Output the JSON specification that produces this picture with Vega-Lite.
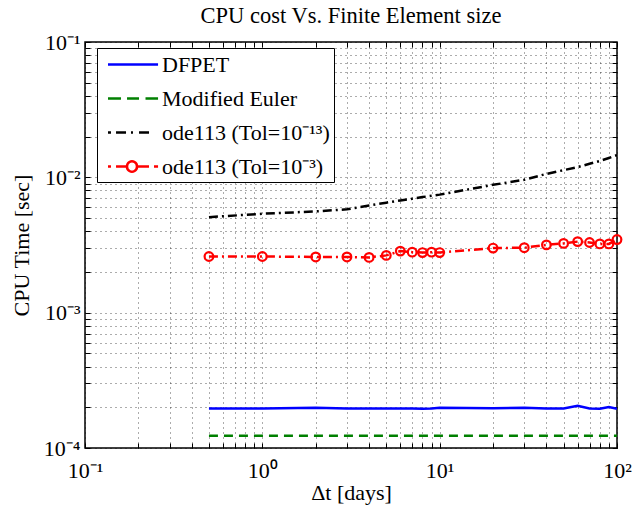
{
  "$schema": "https://vega.github.io/schema/vega-lite/v6.json",
  "width": 532,
  "height": 406,
  "autosize": {"type": "none"},
  "padding": {"left": 85, "top": 42, "right": 15, "bottom": 64},
  "background": "white",
  "config": {"font": "Liberation Serif", "view": {"stroke": "black", "strokeWidth": 1.5}},
  "title": {"text": "CPU cost Vs. Finite Element size", "fontSize": 22.5, "fontWeight": "normal", "font": "Liberation Serif", "offset": 4, "color": "black"},
  "datasets": {
    "d": [
      {"dt": 0.5, "t": 0.000196, "method": "DFPET"},
      {"dt": 1, "t": 0.000196, "method": "DFPET"},
      {"dt": 2, "t": 0.000198, "method": "DFPET"},
      {"dt": 3, "t": 0.000196, "method": "DFPET"},
      {"dt": 4, "t": 0.000196, "method": "DFPET"},
      {"dt": 5, "t": 0.000196, "method": "DFPET"},
      {"dt": 6, "t": 0.000196, "method": "DFPET"},
      {"dt": 7, "t": 0.000196, "method": "DFPET"},
      {"dt": 8, "t": 0.000195, "method": "DFPET"},
      {"dt": 9, "t": 0.000196, "method": "DFPET"},
      {"dt": 10, "t": 0.000198, "method": "DFPET"},
      {"dt": 20, "t": 0.000197, "method": "DFPET"},
      {"dt": 30, "t": 0.000198, "method": "DFPET"},
      {"dt": 40, "t": 0.000196, "method": "DFPET"},
      {"dt": 50, "t": 0.000196, "method": "DFPET"},
      {"dt": 60, "t": 0.000205, "method": "DFPET"},
      {"dt": 70, "t": 0.000196, "method": "DFPET"},
      {"dt": 80, "t": 0.000195, "method": "DFPET"},
      {"dt": 90, "t": 0.000201, "method": "DFPET"},
      {"dt": 100, "t": 0.000195, "method": "DFPET"},
      {"dt": 0.5, "t": 0.000123, "method": "Modified Euler"},
      {"dt": 1, "t": 0.000123, "method": "Modified Euler"},
      {"dt": 2, "t": 0.000123, "method": "Modified Euler"},
      {"dt": 3, "t": 0.000123, "method": "Modified Euler"},
      {"dt": 4, "t": 0.000123, "method": "Modified Euler"},
      {"dt": 5, "t": 0.000123, "method": "Modified Euler"},
      {"dt": 6, "t": 0.000123, "method": "Modified Euler"},
      {"dt": 7, "t": 0.000123, "method": "Modified Euler"},
      {"dt": 8, "t": 0.000123, "method": "Modified Euler"},
      {"dt": 9, "t": 0.000123, "method": "Modified Euler"},
      {"dt": 10, "t": 0.000123, "method": "Modified Euler"},
      {"dt": 20, "t": 0.000123, "method": "Modified Euler"},
      {"dt": 30, "t": 0.000123, "method": "Modified Euler"},
      {"dt": 40, "t": 0.000123, "method": "Modified Euler"},
      {"dt": 50, "t": 0.000123, "method": "Modified Euler"},
      {"dt": 60, "t": 0.000123, "method": "Modified Euler"},
      {"dt": 70, "t": 0.000123, "method": "Modified Euler"},
      {"dt": 80, "t": 0.000123, "method": "Modified Euler"},
      {"dt": 90, "t": 0.000123, "method": "Modified Euler"},
      {"dt": 100, "t": 0.000123, "method": "Modified Euler"},
      {"dt": 0.5, "t": 0.00508, "method": "ode113 (Tol=10⁻¹³)"},
      {"dt": 1, "t": 0.00538, "method": "ode113 (Tol=10⁻¹³)"},
      {"dt": 2, "t": 0.0056, "method": "ode113 (Tol=10⁻¹³)"},
      {"dt": 3, "t": 0.0058, "method": "ode113 (Tol=10⁻¹³)"},
      {"dt": 4, "t": 0.0062, "method": "ode113 (Tol=10⁻¹³)"},
      {"dt": 5, "t": 0.0065, "method": "ode113 (Tol=10⁻¹³)"},
      {"dt": 6, "t": 0.00675, "method": "ode113 (Tol=10⁻¹³)"},
      {"dt": 7, "t": 0.00695, "method": "ode113 (Tol=10⁻¹³)"},
      {"dt": 8, "t": 0.00715, "method": "ode113 (Tol=10⁻¹³)"},
      {"dt": 9, "t": 0.0073, "method": "ode113 (Tol=10⁻¹³)"},
      {"dt": 10, "t": 0.00745, "method": "ode113 (Tol=10⁻¹³)"},
      {"dt": 20, "t": 0.0088, "method": "ode113 (Tol=10⁻¹³)"},
      {"dt": 30, "t": 0.0096, "method": "ode113 (Tol=10⁻¹³)"},
      {"dt": 40, "t": 0.0106, "method": "ode113 (Tol=10⁻¹³)"},
      {"dt": 50, "t": 0.0113, "method": "ode113 (Tol=10⁻¹³)"},
      {"dt": 60, "t": 0.0119, "method": "ode113 (Tol=10⁻¹³)"},
      {"dt": 70, "t": 0.0126, "method": "ode113 (Tol=10⁻¹³)"},
      {"dt": 80, "t": 0.0132, "method": "ode113 (Tol=10⁻¹³)"},
      {"dt": 90, "t": 0.0139, "method": "ode113 (Tol=10⁻¹³)"},
      {"dt": 100, "t": 0.0146, "method": "ode113 (Tol=10⁻¹³)"},
      {"dt": 0.5, "t": 0.0026, "method": "ode113 (Tol=10⁻³)"},
      {"dt": 1, "t": 0.0026, "method": "ode113 (Tol=10⁻³)"},
      {"dt": 2, "t": 0.00258, "method": "ode113 (Tol=10⁻³)"},
      {"dt": 3, "t": 0.00258, "method": "ode113 (Tol=10⁻³)"},
      {"dt": 4, "t": 0.00256, "method": "ode113 (Tol=10⁻³)"},
      {"dt": 5, "t": 0.00265, "method": "ode113 (Tol=10⁻³)"},
      {"dt": 6, "t": 0.00285, "method": "ode113 (Tol=10⁻³)"},
      {"dt": 7, "t": 0.0028, "method": "ode113 (Tol=10⁻³)"},
      {"dt": 8, "t": 0.00278, "method": "ode113 (Tol=10⁻³)"},
      {"dt": 9, "t": 0.0028, "method": "ode113 (Tol=10⁻³)"},
      {"dt": 10, "t": 0.00278, "method": "ode113 (Tol=10⁻³)"},
      {"dt": 20, "t": 0.003, "method": "ode113 (Tol=10⁻³)"},
      {"dt": 30, "t": 0.00302, "method": "ode113 (Tol=10⁻³)"},
      {"dt": 40, "t": 0.00317, "method": "ode113 (Tol=10⁻³)"},
      {"dt": 50, "t": 0.00325, "method": "ode113 (Tol=10⁻³)"},
      {"dt": 60, "t": 0.00335, "method": "ode113 (Tol=10⁻³)"},
      {"dt": 70, "t": 0.0033, "method": "ode113 (Tol=10⁻³)"},
      {"dt": 80, "t": 0.00322, "method": "ode113 (Tol=10⁻³)"},
      {"dt": 90, "t": 0.00322, "method": "ode113 (Tol=10⁻³)"},
      {"dt": 100, "t": 0.00347, "method": "ode113 (Tol=10⁻³)"}
    ]
  },
  "data": {"name": "d"},
  "resolve": {"axis": {"x": "independent", "y": "independent"}},
  "layer": [
    {
      "encoding": {
        "x": {
          "field": "dt", "type": "quantitative",
          "scale": {"type": "log", "domain": [0.1, 100], "nice": false},
          "axis": {
            "values": [0.1, 0.2, 0.3, 0.4, 0.5, 0.6, 0.7, 0.8, 0.9, 1, 2, 3, 4, 5, 6, 7, 8, 9, 10, 20, 30, 40, 50, 60, 70, 80, 90, 100],
            "labelExpr": "datum.value == 0.1 ? '10⁻¹' : datum.value == 1 ? '10⁰' : datum.value == 10 ? '10¹' : datum.value == 100 ? '10²' : ''",
            "grid": true, "gridDash": [1, 4], "gridColor": "black", "gridOpacity": 0.65,
            "tickSize": -5, "tickColor": "black", "domain": false,
            "labelFontSize": 22, "labelFont": "Liberation Serif", "labelColor": "black", "labelPadding": 17, "labelOverlap": false, "labelFlush": false,
            "title": "Δt [days]", "titleFontSize": 22, "titleFont": "Liberation Serif", "titleFontWeight": "normal", "titleColor": "black", "titlePadding": 1
          }
        },
        "y": {
          "field": "t", "type": "quantitative",
          "scale": {"type": "log", "domain": [0.0001, 0.1], "nice": false},
          "axis": {
            "values": [0.0001, 0.0002, 0.0003, 0.0004, 0.0005, 0.0006, 0.0007, 0.0008, 0.0009, 0.001, 0.002, 0.003, 0.004, 0.005, 0.006, 0.007, 0.008, 0.009, 0.01, 0.02, 0.03, 0.04, 0.05, 0.06, 0.07, 0.08, 0.09, 0.1],
            "labelExpr": "datum.value == 0.0001 ? '10⁻⁴' : datum.value == 0.001 ? '10⁻³' : datum.value == 0.01 ? '10⁻²' : datum.value == 0.1 ? '10⁻¹' : ''",
            "grid": true, "gridDash": [1, 4], "gridColor": "black", "gridOpacity": 0.65,
            "tickSize": -5, "tickColor": "black", "domain": false,
            "labelFontSize": 22, "labelFont": "Liberation Serif", "labelColor": "black", "labelPadding": 10, "labelOverlap": false, "labelFlush": false,
            "title": "CPU Time [sec]", "titleFontSize": 22, "titleFont": "Liberation Serif", "titleFontWeight": "normal", "titleColor": "black", "titlePadding": 10
          }
        },
        "color": {
          "field": "method", "type": "nominal",
          "scale": {"domain": ["DFPET", "Modified Euler", "ode113 (Tol=10⁻¹³)", "ode113 (Tol=10⁻³)"], "range": ["#0000ff", "#008000", "#000000", "#ff0000"]},
          "legend": {
            "orient": "none", "legendX": 12, "legendY": 6, "title": null,
            "fillColor": "white", "strokeColor": "black", "padding": 4,
            "labelFontSize": 22, "labelFont": "Liberation Serif", "labelColor": "black", "labelLimit": 400,
            "symbolSize": 484, "symbolStrokeWidth": 2.5, "symbolType": "stroke", "rowPadding": 10, "labelOffset": 36,
            "encode": {
              "symbols": {
                "update": {
                  "shape": {"signal": "datum.value === 'ode113 (Tol=10⁻³)' ? 'M-0.5,0H-0.23M0.23,0H1.227M2.136,0A0.455,0.455,0,1,1,1.227,0A0.455,0.455,0,1,1,2.136,0M2.136,0H3.23M3.68,0H4.05' : datum.value === 'ode113 (Tol=10⁻¹³)' ? 'M-0.5,0H-0.23M0.23,0H1.14M1.59,0H1.77M2.32,0H3.23' : datum.value === 'Modified Euler' ? 'M-0.5,0H0.68M1.23,0H2.32M2.91,0H4.05' : 'M-0.5,0H4.05'"}
                }
              }
            }
          }
        }
      },
      "layer": [
        {
          "transform": [{"filter": "datum.method === 'DFPET'"}],
          "mark": {"type": "line", "strokeWidth": 2.5, "clip": true}
        },
        {
          "transform": [{"filter": "datum.method === 'Modified Euler'"}],
          "mark": {"type": "line", "strokeWidth": 2.5, "strokeDash": [9, 6], "clip": true}
        },
        {
          "transform": [{"filter": "datum.method === 'ode113 (Tol=10⁻¹³)'"}],
          "mark": {"type": "line", "strokeWidth": 2.5, "strokeDash": [9, 4, 2, 4], "clip": true}
        },
        {
          "transform": [{"filter": "datum.method === 'ode113 (Tol=10⁻³)'"}],
          "mark": {"type": "line", "strokeWidth": 2.5, "strokeDash": [9, 4, 2, 4], "clip": true}
        }
      ]
    },
    {
      "transform": [{"filter": "datum.method === 'ode113 (Tol=10⁻³)'"}],
      "mark": {"type": "point", "shape": "circle", "size": 75, "strokeWidth": 2.2, "color": "#ff0000", "filled": false, "opacity": 1},
      "encoding": {
        "x": {
          "field": "dt", "type": "quantitative",
          "scale": {"type": "log", "domain": [0.1, 100], "nice": false},
          "axis": {
            "orient": "top", "values": [0.1, 0.2, 0.3, 0.4, 0.5, 0.6, 0.7, 0.8, 0.9, 1, 2, 3, 4, 5, 6, 7, 8, 9, 10, 20, 30, 40, 50, 60, 70, 80, 90, 100],
            "labels": false, "grid": false, "domain": false, "tickSize": -5, "tickColor": "black", "title": null
          }
        },
        "y": {
          "field": "t", "type": "quantitative",
          "scale": {"type": "log", "domain": [0.0001, 0.1], "nice": false},
          "axis": {
            "orient": "right", "values": [0.0001, 0.0002, 0.0003, 0.0004, 0.0005, 0.0006, 0.0007, 0.0008, 0.0009, 0.001, 0.002, 0.003, 0.004, 0.005, 0.006, 0.007, 0.008, 0.009, 0.01, 0.02, 0.03, 0.04, 0.05, 0.06, 0.07, 0.08, 0.09, 0.1],
            "labels": false, "grid": false, "domain": false, "tickSize": -5, "tickColor": "black", "title": null
          }
        }
      }
    }
  ]
}
